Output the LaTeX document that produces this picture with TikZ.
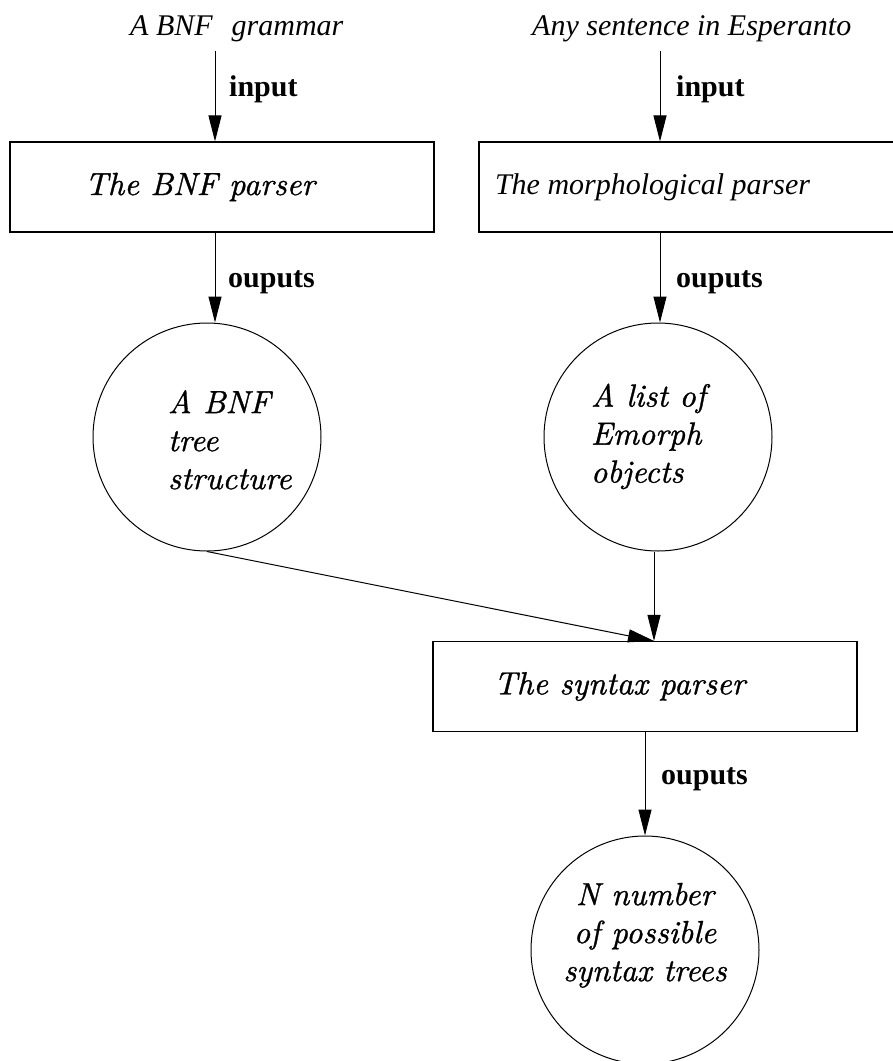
\documentclass[tikz,border=0pt]{standalone}
\usepackage{fontspec}
\newfontfamily\timesfam{Liberation Serif}
\newfontfamily\schfam{lmroman10-italic}[Extension=.otf, FakeBold=1]
\usetikzlibrary{arrows.meta}
\begin{document}
\begin{tikzpicture}[x=1pt,y=-1pt,
  every node/.style={inner sep=0pt},
  flow/.style={-{Triangle[length=26pt,width=13pt]}, line width=1pt},
  procbox/.style={draw, line width=1.1pt, rectangle, minimum width=424pt, minimum height=90pt},
  datacirc/.style={draw, line width=1pt, circle, minimum size=228pt},
  sch/.style={font=\schfam\fontsize{32}{38}\selectfont},
  tms/.style={font=\timesfam\fontsize{30}{36}\selectfont\itshape},
  verb/.style={font=\timesfam\fontsize{30}{36}\selectfont\bfseries, anchor=base west},
]
\useasboundingbox (0,0) rectangle (893,1061);
\clip (0,0) rectangle (893,1061);

% inputs
\node[tms, anchor=base west] (srcL) at (130,35) {A BNF\hspace{19pt}grammar};
\node[tms, anchor=base west] (srcR) at (532,35) {Any sentence in Esperanto};

% parsers
\node[procbox, sch] (bnf) at (222,187) {\makebox[0pt][l]{\hspace*{-137pt}The BNF parser}};
\node[procbox, tms] (morph) at (691,187) {\makebox[0pt][l]{\hspace*{-196pt}The morphological parser}};
\node[procbox, sch] (syn) at (645,686.5) {\makebox[0pt][l]{\hspace*{-151pt}The syntax parser}};

% data produced
\node[datacirc, sch] (tree) at (207,437) {\makebox[0pt][l]{\hspace*{-39pt}\begin{tabular}{@{}l@{}}\noalign{\vskip13pt}A BNF\\tree\\structure\end{tabular}}};
\node[datacirc, sch] (emorph) at (658,437) {\makebox[0pt][l]{\hspace*{-67pt}\begin{tabular}{@{}l@{}}A list of\\Emorph\\objects\end{tabular}}};
\node[datacirc, sch] (trees) at (645,950) {\begin{tabular}{@{}c@{}}N number\\of possible\\syntax trees\\ \noalign{\vskip29pt}\end{tabular}};

% connectors
\coordinate (aL) at (215,51);
\coordinate (aR) at (660,51);
\coordinate (m) at ([xshift=9pt]syn.north);
\draw[flow] (aL) -- (aL |- bnf.north);
\draw[flow] (aL |- bnf.south) -- (aL |- tree.north);
\draw[flow] (aR) -- (aR |- morph.north);
\draw[flow] (aR |- morph.south) -- (aR |- emorph.north);
\draw[flow] (tree.south) -- (m);
\draw[flow] (emorph.south -| m) -- (m);
\draw[flow] (syn.south) -- (trees.north);

% connector labels
\node[verb] (inL) at (229,96) {input};
\node[verb] (outL) at (228,287) {ouputs};
\node[verb] (inR) at (676,96) {input};
\node[verb] (outR) at (676,287) {ouputs};
\node[verb] (outS) at (661,784) {ouputs};
\end{tikzpicture}
\end{document}
